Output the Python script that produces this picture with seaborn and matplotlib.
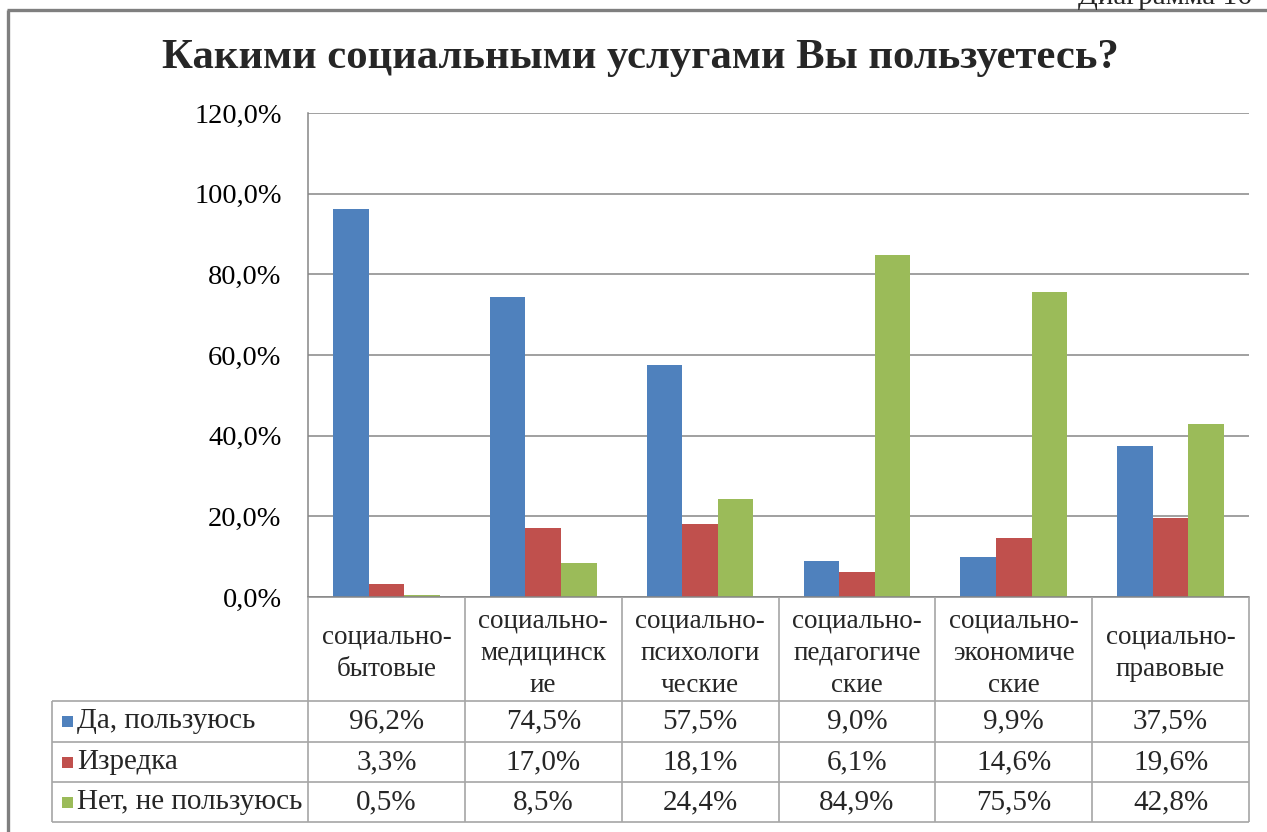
import matplotlib
matplotlib.use("Agg")
import matplotlib.pyplot as plt
import seaborn as sns
import pandas as pd
from matplotlib.lines import Line2D
from matplotlib.patches import Rectangle

# ---- data ----
categories = ["социально-бытовые", "социально-медицинские", "социально-психологические",
              "социально-педагогические", "социально-экономические", "социально-правовые"]
category_labels = ["социально-\nбытовые", "социально-\nмедицинск\nие", "социально-\nпсихологи\nческие",
                   "социально-\nпедагогиче\nские", "социально-\nэкономиче\nские", "социально-\nправовые"]
series = ["Да, пользуюсь", "Изредка", "Нет, не пользуюсь"]
yes_vals = [96.2, 74.5, 57.5, 9.0, 9.9, 37.5]
rarely_vals = [3.3, 17.0, 18.1, 6.1, 14.6, 19.6]
no_vals = [0.5, 8.5, 24.4, 84.9, 75.5, 42.8]
yticks = [0, 20, 40, 60, 80, 100, 120]
title = "Какими социальными услугами Вы пользуетесь?"
caption = "Диаграмма 16"

colors = ["#4F81BD", "#C0504D", "#9BBB59"]
values = [yes_vals, rarely_vals, no_vals]

rows = []
for s, vals in zip(series, values):
    for c, v in zip(categories, vals):
        rows.append({"cat": c, "series": s, "val": v})
df = pd.DataFrame(rows)

sns.set_theme(style="white")
plt.rcParams["font.family"] = ["Liberation Serif", "DejaVu Serif"]

W, H = 1267, 832
fig = plt.figure(figsize=(W / 100, H / 100), dpi=100)
fig.patch.set_facecolor("white")

L, R, T, B = 308, 1249, 113, 597
ax = fig.add_axes([L / W, 1 - B / H, (R - L) / W, (B - T) / H])
sns.barplot(data=df, x="cat", y="val", hue="series", hue_order=series, order=categories,
            palette=colors, width=0.68, saturation=1, errorbar=None, legend=False,
            linewidth=0, ax=ax)
ax.set_xlim(-0.5, len(categories) - 0.5)
ax.set_ylim(0, 120)
ax.set_yticks(yticks)
ax.set_yticklabels([f"{v:.1f}%".replace(".", ",") for v in yticks])
ax.set_xticks([])
ax.set_xlabel("")
ax.set_ylabel("")
ax.grid(axis="y", color="#868686", lw=1.1)
ax.set_axisbelow(True)
for sp in ["top", "right"]:
    ax.spines[sp].set_visible(False)
for sp in ["left", "bottom"]:
    ax.spines[sp].set_color("#868686")
    ax.spines[sp].set_linewidth(1.1)
ax.tick_params(axis="y", length=0, pad=19, labelsize=20.4, labelcolor="black")

def fx(x):
    return x / W

def fy(y):
    return 1 - y / H

tc = "#A6A6A6"
def line(x0, y0, x1, y1, color=tc, lw=1.2):
    fig.add_artist(Line2D([fx(x0), fx(x1)], [fy(y0), fy(y1)], transform=fig.transFigure,
                          color=color, lw=lw, solid_capstyle="butt"))

# ---- data table ----
n = len(categories)
xs = [L + i * (R - L) / n for i in range(n + 1)]
row_y = [701, 742, 782, 822]
TL = 52
for y in row_y:
    line(TL, y, R, y)
line(TL, row_y[0], TL, row_y[-1])
for x in xs:
    line(x, B, x, row_y[-1])

for i, lab in enumerate(category_labels):
    cx = (xs[i] + xs[i + 1]) / 2
    fig.text(fx(cx), fy(653), lab, ha="center", va="center", fontsize=19.5, linespacing=1.38)

for r, (s, vals, col) in enumerate(zip(series, values, colors)):
    cy = (row_y[r] + row_y[r + 1]) / 2
    fig.add_artist(Rectangle((fx(62), fy(cy + 5.5)), 11 / W, 11 / H, transform=fig.transFigure,
                             facecolor=col, edgecolor="none"))
    fig.text(fx(77), fy(cy), s, ha="left", va="center", fontsize=21)
    for i, v in enumerate(vals):
        cx = (xs[i] + xs[i + 1]) / 2
        fig.text(fx(cx), fy(cy), f"{v:.1f}%".replace(".", ","), ha="center", va="center", fontsize=21)

# ---- title & frame ----
fig.text(fx(640), fy(58), title, ha="center", va="center", fontsize=30.7, fontweight="bold")
fig.text(fx(1078), fy(4), caption, ha="left", va="baseline", fontsize=21)
line(7, 10, W, 10, color="#7F7F7F", lw=2.4)
line(8, 10, 8, H, color="#7F7F7F", lw=2.4)

fig.savefig("out.png", dpi=100, facecolor="white")
